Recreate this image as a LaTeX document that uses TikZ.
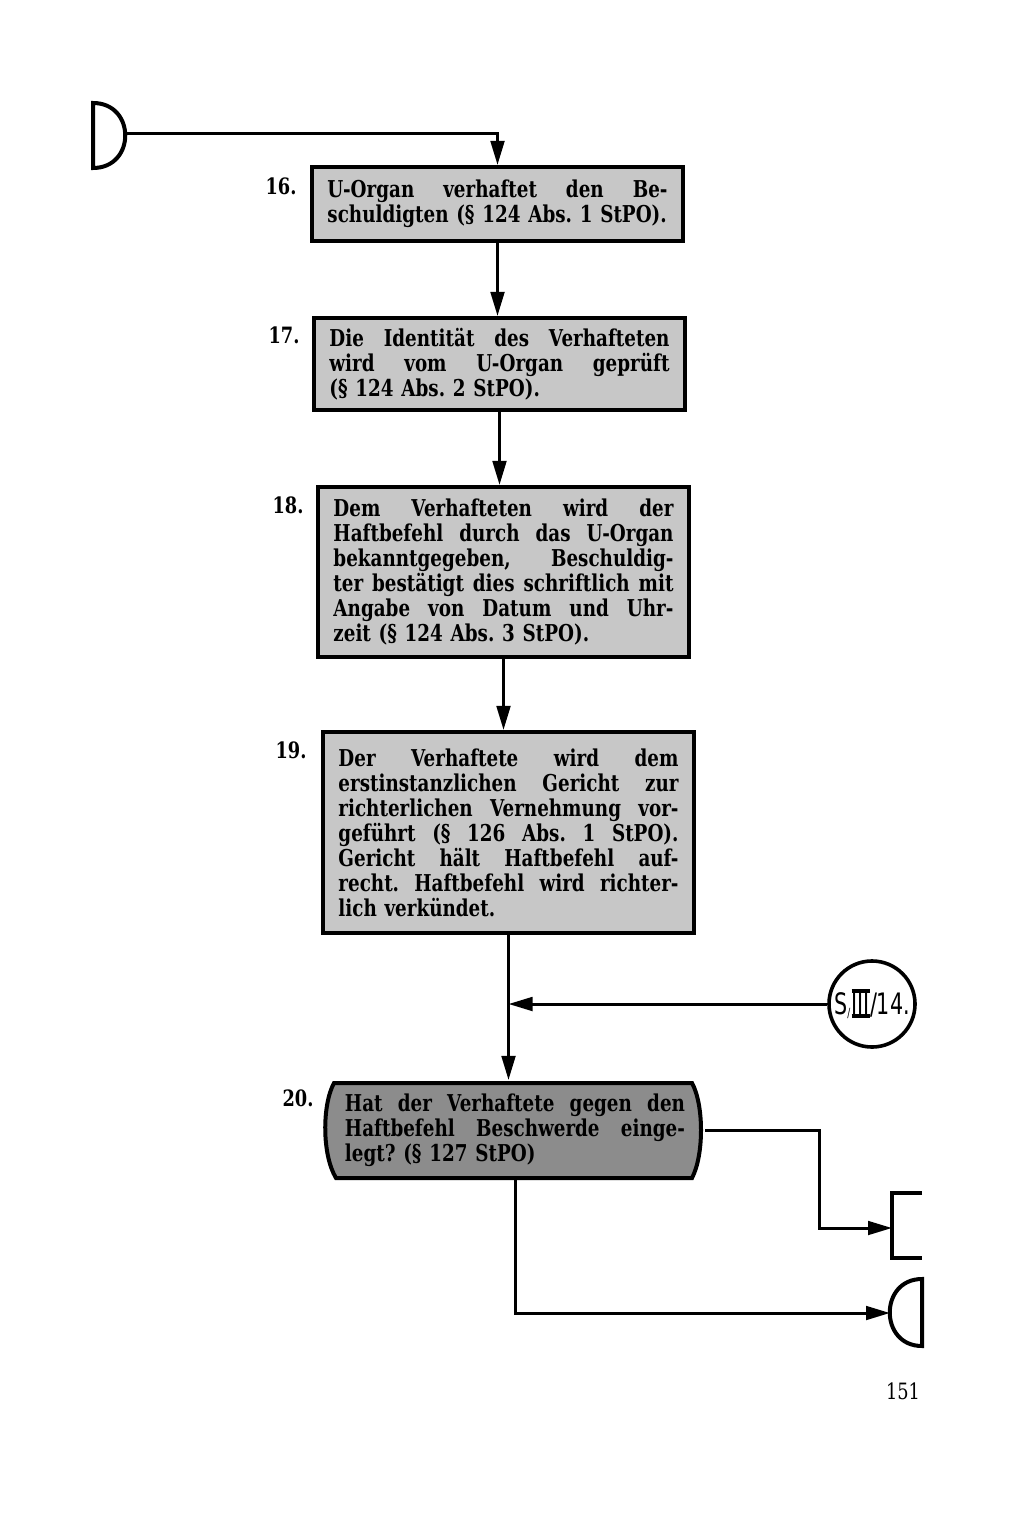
\documentclass[tikz,border=0pt]{standalone}
\usepackage{fontspec}
\setmainfont{DejaVu Serif}[FakeStretch=0.79]
\newfontfamily\circfont{DejaVu Sans}[FakeStretch=0.7]
\usepackage{tikz}
\usetikzlibrary{arrows.meta,calc}
\frenchspacing
\newcommand{\fl}[1]{\leavevmode\hbox to 85mm{\spaceskip=0.28em plus 2em\relax#1}\\}
\newcommand{\rmiii}{\setbox0\hbox{III}%
  \rlap{\rule[-0.2ex]{\wd0}{0.22ex}}\rlap{\rule[\ht0]{\wd0}{0.22ex}}\box0}

\begin{document}
\begin{tikzpicture}[x=0.025cm,y=-0.025cm,
    stepbox/.style={draw,line width=1mm,fill=black!22,text width=85mm,
      inner xsep=3.75mm,inner ysep=2mm,font=\bfseries\fontsize{16.5}{17.8}\selectfont},
    conn/.style={line width=0.75mm,-{Triangle[length=6mm,width=3.4mm]}},
    numlbl/.style={font=\bfseries\fontsize{16}{16}\selectfont}]
  \useasboundingbox[fill=white] (0,0) rectangle (1024,1516);
  %\draw[very thin,lightgray,step=100] (0,0) grid (1024,1516);
  \draw[line width=1mm] (93,103) .. controls (136,103) and (136,168) .. (93,168) -- cycle;
  \coordinate (entry) at (125,134);

  \node[stepbox,minimum height=18.5mm] (b16) at (497.5,204)
    {\fl{U-Organ verhaftet den Be-}schuldigten (§ 124 Abs. 1 StPO).};
  \node[stepbox,minimum height=23mm] (b17) at (499.5,364)
    {\fl{Die Identität des Verhafteten}\fl{wird vom U-Organ geprüft}(§ 124 Abs. 2 StPO).};
  \node[stepbox,minimum height=42.5mm] (b18) at (503.5,572)
    {\fl{Dem Verhafteten wird der}\fl{Haftbefehl durch das U-Organ}\fl{bekanntgegeben, Beschuldig-}%
     \fl{ter bestätigt dies schriftlich mit}\fl{Angabe von Datum und Uhr-}zeit (§ 124 Abs. 3 StPO).};
  \node[stepbox,minimum height=50.25mm] (b19) at (508.5,832.5)
    {\fl{Der Verhaftete wird dem}\fl{erstinstanzlichen Gericht zur}\fl{richterlichen Vernehmung vor-}%
     \fl{geführt (§ 126 Abs. 1 StPO).}\fl{Gericht hält Haftbefehl auf-}\fl{recht. Haftbefehl wird richter-}lich verkündet.};

  \draw[line width=1mm,fill=black!45] (334,1083) -- (692,1083)
    .. controls (704,1105) and (704,1155) .. (692,1178) -- (336,1178)
    .. controls (322,1155) and (322,1105) .. (334,1083) -- cycle;
  \node[stepbox,draw=none,fill=none,minimum height=24mm,inner xsep=4.5mm] (dec) at (515,1130)
    {\fl{Hat der Verhaftete gegen den}\fl{Haftbefehl Beschwerde einge-}legt? (§ 127 StPO)};

  \node[numlbl] (n16) at (281,186) {16.};
  \node[numlbl] (n17) at (284,335) {17.};
  \node[numlbl] (n18) at (288,505) {18.};
  \node[numlbl] (n19) at (291,750) {19.};
  \node[numlbl] (n20) at (298,1098) {20.};

  \node[draw,circle,line width=0.9mm,minimum size=21.5mm,inner sep=0pt,
    font=\circfont\fontsize{21}{21}\selectfont] (circ) at (872,1004)
    {S\raisebox{-0.2ex}{\fontsize{9}{9}\selectfont/}\kern1pt\rmiii/14.};
  \coordinate (join) at (b19.south |- circ.west);

  \draw[line width=1mm] (922,1193) -- (892,1193) -- (892,1258) -- (922,1258);
  \coordinate (exitA) at (892,1228);
  \draw[line width=1mm] (922,1279) .. controls (879,1279) and (879,1346) .. (922,1346) -- cycle;
  \coordinate (exitB) at (890,1313);

  \draw[conn] (entry) -| (b16.north);
  \draw[conn] (b16.south) -- (b16.south |- b17.north);
  \draw[conn] (b17.south) -- (b17.south |- b18.north);
  \draw[conn] (b18.south) -- (b18.south |- b19.north);
  \draw[conn] (b19.south) -- (b19.south |- dec.north);
  \draw[conn] (circ.west) -- (join);
  \draw[conn] (dec.east) -- ++(114,0) |- (exitA);
  \draw[conn] (dec.south) |- (exitB);

  \node[font=\fontsize{16}{16}\selectfont] (page) at (903,1391) {151};
\end{tikzpicture}
\end{document}
